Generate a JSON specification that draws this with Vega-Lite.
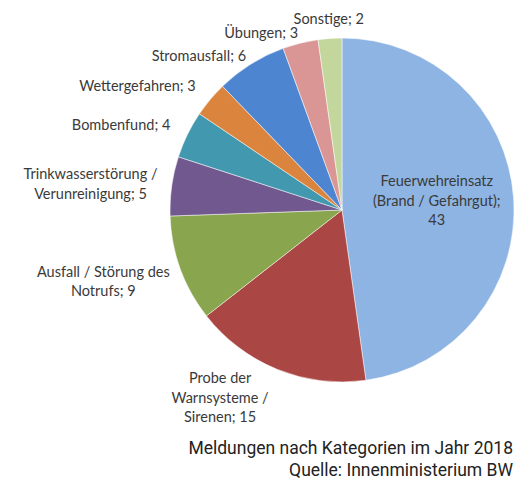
{
  "$schema": "https://vega.github.io/schema/vega-lite/v6.json",
  "width": 342,
  "height": 342,
  "autosize": {"type": "none"},
  "padding": {"left": 171, "top": 39, "right": 19, "bottom": 98},
  "background": "white",
  "title": {
    "text": ["Meldungen nach Kategorien im Jahr 2018", "Quelle: Innenministerium BW"],
    "orient": "bottom",
    "anchor": "end",
    "frame": "group",
    "align": "right",
    "baseline": "top",
    "offset": -12,
    "font": "Roboto",
    "fontSize": 17.5,
    "fontWeight": "normal",
    "lineHeight": 22,
    "color": "#222222"
  },
  "config": {"view": {"stroke": null}},
  "data": {
    "values": [
      {"idx": 1, "kategorie": "Feuerwehreinsatz (Brand / Gefahrgut)", "label": "Feuerwehreinsatz\n(Brand / Gefahrgut);\n43", "anzahl": 43},
      {"idx": 2, "kategorie": "Probe der Warnsysteme / Sirenen", "label": "Probe der\nWarnsysteme /\nSirenen; 15", "anzahl": 15},
      {"idx": 3, "kategorie": "Ausfall / Störung des Notrufs", "label": "Ausfall / Störung des\nNotrufs; 9", "anzahl": 9},
      {"idx": 4, "kategorie": "Trinkwasserstörung / Verunreinigung", "label": "Trinkwasserstörung /\nVerunreinigung; 5", "anzahl": 5},
      {"idx": 5, "kategorie": "Bombenfund", "label": "Bombenfund;  4", "anzahl": 4},
      {"idx": 6, "kategorie": "Wettergefahren", "label": "Wettergefahren;  3", "anzahl": 3},
      {"idx": 7, "kategorie": "Stromausfall", "label": "Stromausfall; 6", "anzahl": 6},
      {"idx": 8, "kategorie": "Übungen", "label": "Übungen;  3", "anzahl": 3},
      {"idx": 9, "kategorie": "Sonstige", "label": "Sonstige; 2", "anzahl": 2}
    ]
  },
  "encoding": {
    "theta": {"field": "anzahl", "type": "quantitative", "stack": true},
    "order": {"field": "idx", "type": "quantitative"}
  },
  "layer": [
    {
      "mark": {"type": "arc", "radius": 172, "stroke": "#ffffff", "strokeWidth": 0.5},
      "encoding": {
        "color": {
          "field": "kategorie",
          "type": "nominal",
          "legend": null,
          "sort": null,
          "scale": {
            "domain": ["Feuerwehreinsatz (Brand / Gefahrgut)", "Probe der Warnsysteme / Sirenen", "Ausfall / Störung des Notrufs", "Trinkwasserstörung / Verunreinigung", "Bombenfund", "Wettergefahren", "Stromausfall", "Übungen", "Sonstige"],
            "range": ["#8EB4E3", "#AA4643", "#89A54E", "#71588F", "#4198AF", "#DB843D", "#4D85D1", "#D99694", "#C3D69B"]
          }
        }
      }
    },
    {
      "mark": {"type": "text", "radius": 191, "align": "right", "baseline": "middle", "font": "Lato", "fontSize": 14.5, "color": "#3a3a3a"},
      "encoding": {
        "text": {"condition": {"test": "datum.idx == 5 || datum.idx == 6", "field": "label"}, "value": ""}
      }
    },
    {
      "mark": {"type": "text", "radius": 181, "align": "right", "baseline": "middle", "font": "Lato", "fontSize": 14.5, "color": "#3a3a3a"},
      "encoding": {
        "text": {"condition": {"test": "datum.idx == 7 || datum.idx == 8", "field": "label"}, "value": ""}
      }
    },
    {
      "mark": {"type": "text", "radius": 254, "dy": 0, "align": "center", "baseline": "middle", "lineBreak": "\n", "lineHeight": 20, "font": "Lato", "fontSize": 14.5, "color": "#3a3a3a"},
      "encoding": {
        "text": {"condition": {"test": "datum.idx == 4", "field": "label"}, "value": ""}
      }
    },
    {
      "mark": {"type": "text", "radius": 254, "dy": -24, "align": "center", "baseline": "middle", "lineBreak": "\n", "lineHeight": 19, "font": "Lato", "fontSize": 14.5, "color": "#3a3a3a"},
      "encoding": {
        "text": {"condition": {"test": "datum.idx == 3", "field": "label"}, "value": ""}
      }
    },
    {
      "mark": {"type": "text", "radius": 190, "align": "center", "baseline": "middle", "font": "Lato", "fontSize": 14.5, "color": "#3a3a3a"},
      "encoding": {
        "text": {"condition": {"test": "datum.idx == 9", "field": "label"}, "value": ""}
      }
    },
    {
      "mark": {"type": "text", "radius": 200, "dx": -47, "dy": -16, "align": "center", "baseline": "middle", "lineBreak": "\n", "lineHeight": 19.5, "font": "Lato", "fontSize": 14.5, "color": "#3a3a3a"},
      "encoding": {
        "text": {"condition": {"test": "datum.idx == 2", "field": "label"}, "value": ""}
      }
    },
    {
      "mark": {"type": "text", "radius": 95, "dy": -21, "align": "center", "baseline": "middle", "lineBreak": "\n", "lineHeight": 19.5, "font": "Lato", "fontSize": 14.5, "color": "#3a3a3a"},
      "encoding": {
        "text": {"condition": {"test": "datum.idx == 1", "field": "label"}, "value": ""}
      }
    }
  ]
}
